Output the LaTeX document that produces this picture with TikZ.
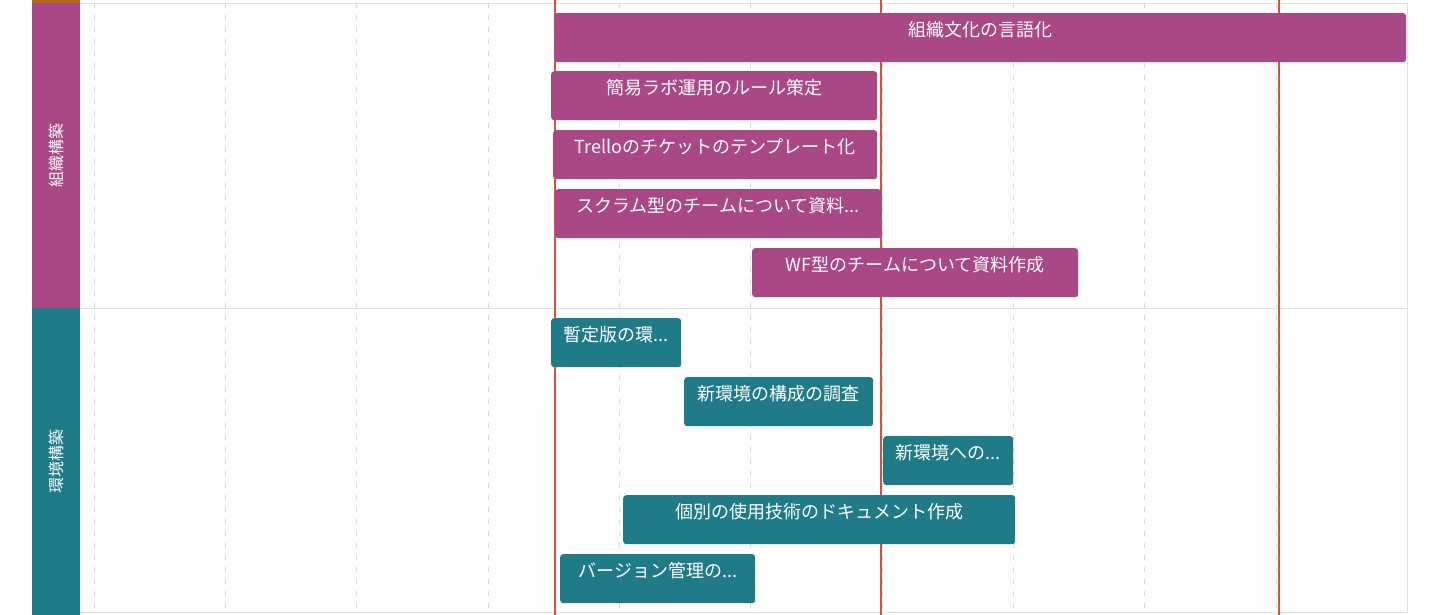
\documentclass[tikz,border=0pt]{standalone}
\usepackage{fontspec}
\setmainfont{Noto Sans CJK JP}
\usetikzlibrary{positioning}
\definecolor{orgpurple}{RGB}{170,71,133}
\definecolor{envteal}{RGB}{30,123,135}
\definecolor{milered}{RGB}{212,82,60}
\definecolor{stripbrown}{RGB}{184,101,26}
\definecolor{gridgray}{RGB}{222,224,230}

\begin{document}
\begin{tikzpicture}[x=1pt, y=-1pt, font=\fontsize{18}{21}\selectfont]
  \useasboundingbox (0,0) rectangle (1440,615);
  \tikzset{lane/.style={rotate=90, inner sep=0pt, text=white, font=\fontsize{16}{18}\selectfont, minimum height=48pt},
    bar/.style={anchor=north west, rounded corners=3pt, text=white, inner xsep=0pt, inner ysep=0pt, text height=23.5pt, text depth=25.5pt},
    org/.style={fill=orgpurple}, env/.style={fill=envteal}}
  % ---- frame and grid ----
  \draw[gridgray] (80,3) -- (1407,3);
  \draw[gridgray] (80,308) -- (1407,308);
  \draw[gridgray, line width=1.5pt] (80,612.5) -- (1407,612.5);
  \draw[gridgray] (1407,3) -- (1407,612);
  \foreach \k in {0,...,9} {
    \draw[gray!30, dash pattern=on 5pt off 7pt] (94+131.3*\k,3) -- (94+131.3*\k,612);
  }
  % ---- milestones ----
  \foreach \x in {555,881,1279} {
    \draw[milered, line width=1.8pt] (\x,0) -- (\x,615);
  }
  % ---- lanes ----
  \fill[stripbrown] (32,0) rectangle (80,3);
  \node (laneorg) [lane, fill=orgpurple, minimum width=305pt] at (56,155.5) {組織構築};
  \node (laneenv) [lane, fill=envteal, minimum width=307pt] at (56,461.5) {環境構築};
  % ---- tasks (left edge, top, width) ----
  \foreach \n/\c/\x/\y/\w/\t in {
    1/org/554/13/852/{組織文化の言語化},
    2/org/551/71/326/{簡易ラボ運用のルール策定},
    3/org/553/130/324/{Trelloのチケットのテンプレート化},
    4/org/555/189/326/{スクラム型のチームについて資料...},
    5/org/752/248/326/{WF型のチームについて資料作成},
    6/env/551/318/130/{暫定版の環...},
    7/env/684/377/189/{新環境の構成の調査},
    8/env/883/436/130/{新環境への...},
    9/env/623/495/392/{個別の使用技術のドキュメント作成},
    10/env/560/554/195/{バージョン管理の...}} {
    \node (task\n) [bar, \c, minimum width=\w pt] at (\x,\y) {\t};
  }
\end{tikzpicture}
\end{document}
